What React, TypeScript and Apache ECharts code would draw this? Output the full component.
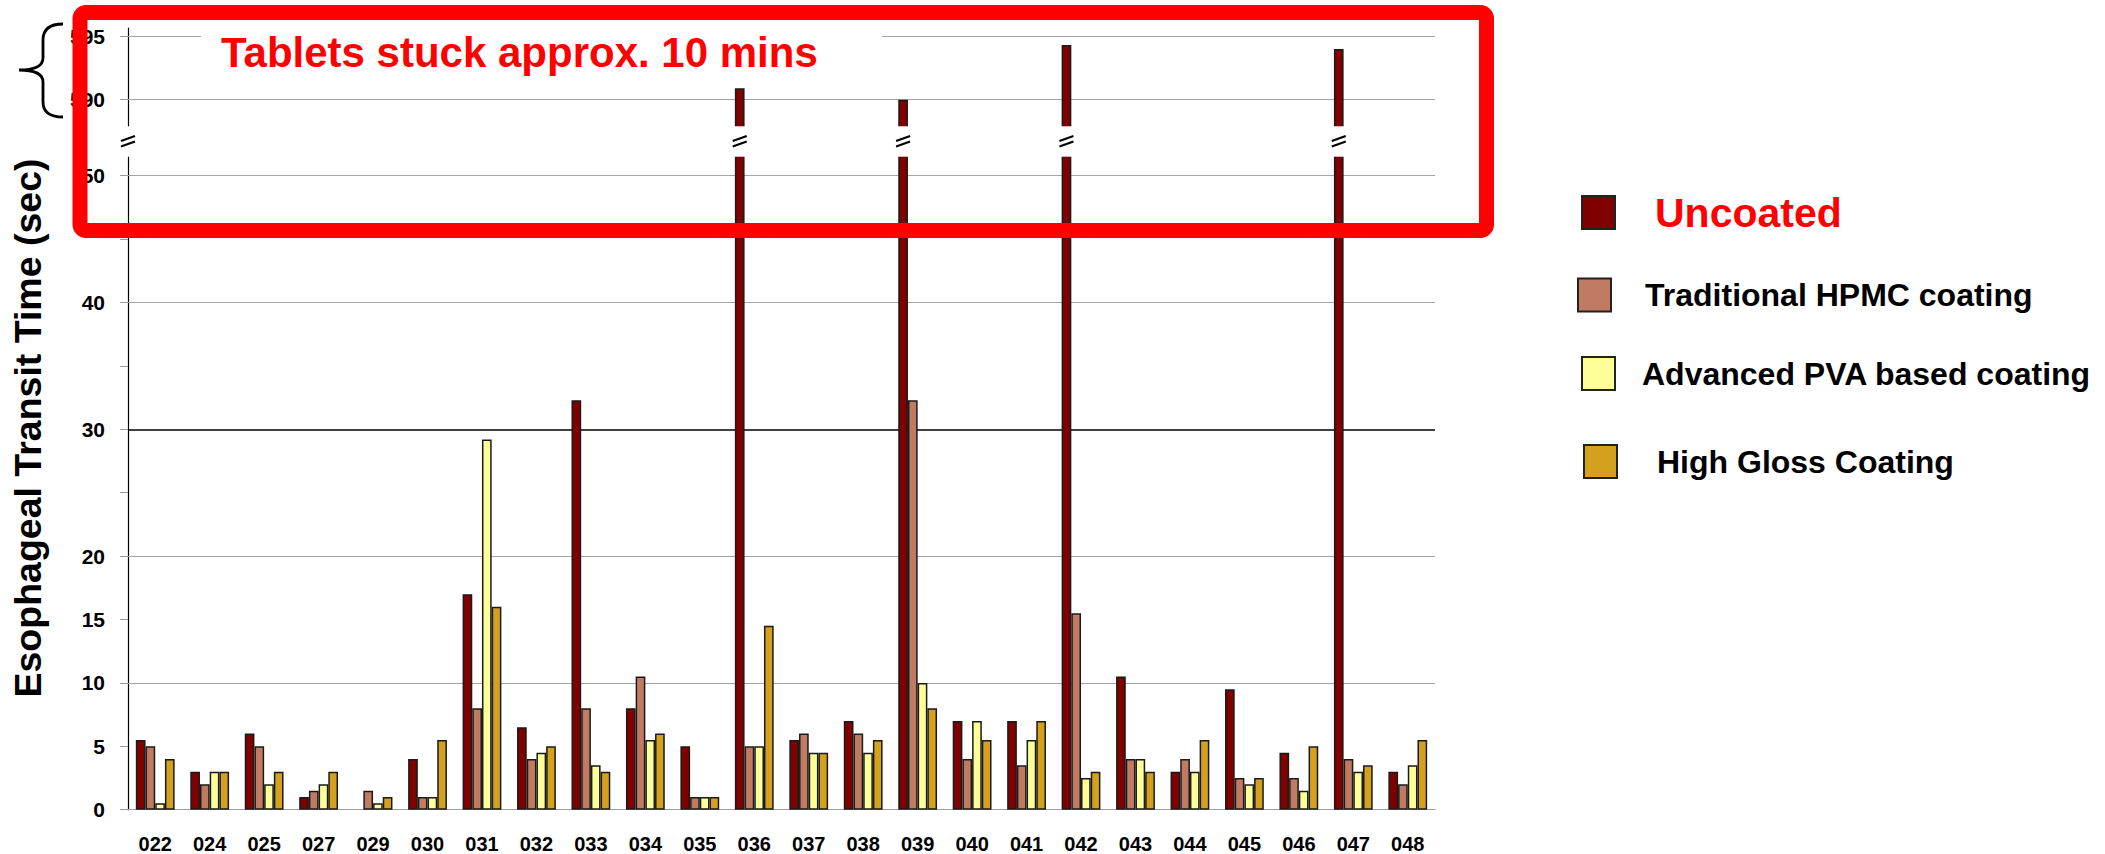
import React, { useEffect, useRef } from 'react';
import * as echarts from 'echarts';

// Patient IDs along the x axis
const patients = [
  '022', '024', '025', '027', '029', '030', '031', '032', '033', '034', '035', '036',
  '037', '038', '039', '040', '041', '042', '043', '044', '045', '046', '047', '048',
];

// Esophageal transit time in seconds, one value per patient
const uncoated = [5.5, 3, 6, 1, 0, 4, 17, 6.5, 32.3, 8, 5, 590.9, 5.5, 7, 590, 7, 7, 594.3, 10.5, 3, 9.5, 4.5, 594, 3];
const hpmc = [5, 2, 5, 1.5, 1.5, 1, 8, 4, 8, 10.5, 1, 5, 6, 6, 32.3, 4, 3.5, 15.5, 4, 4, 2.5, 2.5, 4, 2];
const pva = [0.5, 3, 2, 2, 0.5, 1, 29.2, 4.5, 3.5, 5.5, 1, 5, 4.5, 4.5, 10, 7, 5.5, 2.5, 4, 3, 2, 1.5, 3, 3.5];
const highGloss = [4, 3, 3, 3, 1, 5.5, 16, 5, 3, 6, 1, 14.5, 4.5, 5.5, 8, 5.5, 7, 3, 3, 5.5, 2.5, 5, 3.5, 5.5];

const seriesNames = ['Uncoated', 'Traditional HPMC coating', 'Advanced PVA based coating', 'High Gloss Coating'];
const seriesColors = ['#800000', '#C27B63', '#FFFF99', '#D4A11E'];

// Axis ticks / labels / gridlines, in seconds
const tickValues = [0, 5, 10, 15, 20, 25, 30, 35, 40, 45, 50, 590, 595];
const labelValues = [0, 5, 10, 15, 20, 30, 40, 50, 590, 595];
const gridValues = [10, 20, 30, 40, 50, 590, 595];

// Broken value axis: 0..~53 s is drawn to scale, then the axis jumps so that
// 590 s sits 6 units above 50 s.
const BREAK_SHIFT = 534;
const BREAK_LOW = 51.5;
const BREAK_HIGH = 53.9;
const BREAK_MID = 52.7;
const AXIS_MAX = 61.65;
const toAxis = (v: number) => (v > 100 ? v - BREAK_SHIFT : v);
const fromAxis = (a: number) => (a > BREAK_HIGH ? a + BREAK_SHIFT : a);

const BAR_WIDTH = 9.7;
const FONT = '"Liberation Sans", Arial, sans-serif';

const BRACE_PATH =
  'M63,24 C50,24 43,29 43,40 L43,58 C43,66 36,70 19,70 C36,70 43,74 43,82 L43,102 C43,112 50,117 63,117';
echarts.graphic.registerShape('brace', echarts.graphic.extendPath(BRACE_PATH, {}));

const legendLeft = [1581, 1577, 1581, 1583];
const legendTop = [192, 277.5, 356, 444];
const legendTextPad = [35, 29, 22, 35];

export default function App() {
  const ref = useRef<HTMLDivElement>(null);

  useEffect(() => {
    if (!ref.current) return;
    const chart = echarts.init(ref.current, undefined, { renderer: 'svg' });

    const seriesData = [uncoated, hpmc, pva, highGloss];

    // break markers: one on the y axis, one on each bar that crosses the break
    const breakItems: number[][] = [[0, BREAK_MID, 1]];
    uncoated.forEach((v, i) => {
      if (v > BREAK_HIGH) breakItems.push([i, BREAK_MID, 0]);
    });

    const bars = seriesData.map((vals, si) => ({
      name: seriesNames[si],
      type: 'bar',
      // zero-height bars get no outline
      data: vals.map((v) => (v === 0 ? { value: 0, itemStyle: { borderWidth: 0 } } : toAxis(v))),
      barWidth: BAR_WIDTH,
      barGap: '0%',
      itemStyle: { color: seriesColors[si], borderColor: '#1a1a1a', borderWidth: 1.5 },
      ...(si === 0
        ? {
            markLine: {
              z: 1,
              silent: true,
              symbol: 'none',
              label: { show: false },
              data: gridValues.map((g) => ({
                yAxis: toAxis(g),
                lineStyle: {
                  type: 'solid',
                  color: g === 30 ? '#000000' : '#A6A6A6',
                  width: g === 30 ? 1.5 : 1.2,
                },
              })),
            },
          }
        : {}),
    }));

    chart.setOption({
      animation: false,
      backgroundColor: '#ffffff',
      grid: { left: 128, top: 28, width: 1307, height: 781.7 },
      xAxis: {
        type: 'category',
        data: patients,
        axisLine: { lineStyle: { color: '#A0A0A0', width: 1.2 } },
        axisTick: { length: 6, lineStyle: { color: '#A0A0A0' } },
        axisLabel: { interval: 0, margin: 24, fontSize: 20, fontWeight: 'bold', color: '#000', fontFamily: FONT },
      },
      yAxis: {
        type: 'value',
        min: 0,
        max: AXIS_MAX,
        axisLine: { show: true, lineStyle: { color: '#000', width: 1.2 } },
        axisTick: {
          show: true,
          length: 8,
          lineStyle: { color: '#999' },
          customValues: tickValues.map(toAxis),
        },
        axisLabel: {
          customValues: labelValues.map(toAxis),
          formatter: (v: number) => String(Math.round(fromAxis(v))),
          margin: 23,
          fontSize: 21,
          fontWeight: 'bold',
          color: '#000',
          fontFamily: FONT,
        },
        splitLine: { show: false },
      },
      legend: seriesNames.map((name, i) => ({
        data: [name],
        left: legendLeft[i],
        top: legendTop[i],
        orient: 'vertical',
        padding: 0,
        icon: 'rect',
        itemWidth: 33,
        itemHeight: 33,
        selectedMode: false,
        itemStyle: { borderColor: '#222', borderWidth: 2 },
        textStyle: {
          fontFamily: FONT,
          fontWeight: 'bold',
          fontSize: i === 0 ? 41 : 32,
          color: i === 0 ? '#FF0000' : '#000',
          lineHeight: 33,
          padding: [0, 0, 0, legendTextPad[i]],
        },
      })),
      series: [
        ...bars,
        {
          type: 'custom',
          z: 10,
          silent: true,
          clip: false,
          data: breakItems,
          renderItem: (params: any, api: any) => {
            const idx = api.value(0);
            const kind = api.value(2);
            const mid = api.coord([idx, BREAK_MID]);
            const lo = api.coord([idx, BREAK_LOW]);
            const hi = api.coord([idx, BREAK_HIGH]);
            const band = api.size([1, 0])[0];
            const cx = kind === 1 ? mid[0] - band / 2 : mid[0] - 1.5 * BAR_WIDTH;
            const halfW = kind === 1 ? 4 : BAR_WIDTH / 2 + 2;
            const cy = mid[1];
            return {
              type: 'group',
              children: [
                {
                  type: 'rect',
                  shape: { x: cx - halfW, y: hi[1], width: halfW * 2, height: lo[1] - hi[1] },
                  style: { fill: '#ffffff' },
                },
                {
                  type: 'line',
                  shape: { x1: cx - 7, y1: cy - 0.5, x2: cx + 7, y2: cy - 5.5 },
                  style: { stroke: '#000', lineWidth: 2.2 },
                },
                {
                  type: 'line',
                  shape: { x1: cx - 7, y1: cy + 5, x2: cx + 7, y2: cy },
                  style: { stroke: '#000', lineWidth: 2.2 },
                },
              ],
            };
          },
        },
      ],
      graphic: [
        {
          type: 'text',
          x: 28,
          y: 428,
          rotation: Math.PI / 2,
          style: {
            text: 'Esophageal Transit Time (sec)',
            font: `bold 37.5px ${FONT}`,
            fill: '#000',
            align: 'center',
            verticalAlign: 'middle',
          },
        },
        {
          type: 'brace',
          x: 0,
          y: 0,
          style: { stroke: '#000', fill: 'none', lineWidth: 2.8 },
        },
        {
          type: 'rect',
          z: 20,
          shape: { x: 80, y: 12.5, width: 1406.5, height: 218, r: 6 },
          style: { fill: 'none', stroke: '#FF0000', lineWidth: 15 },
        },
        {
          type: 'text',
          z: 15,
          x: 201,
          y: 52,
          style: {
            text: 'Tablets stuck approx. 10 mins',
            font: `bold 42px ${FONT}`,
            fill: '#FF0000',
            align: 'left',
            verticalAlign: 'middle',
            backgroundColor: '#ffffff',
            padding: [6, 64, 6, 20],
          },
        },
      ],
    });

    return () => chart.dispose();
  }, []);

  return <div ref={ref} style={{ position: 'absolute', left: 0, top: 0, width: 2105, height: 854 }} />;
}
